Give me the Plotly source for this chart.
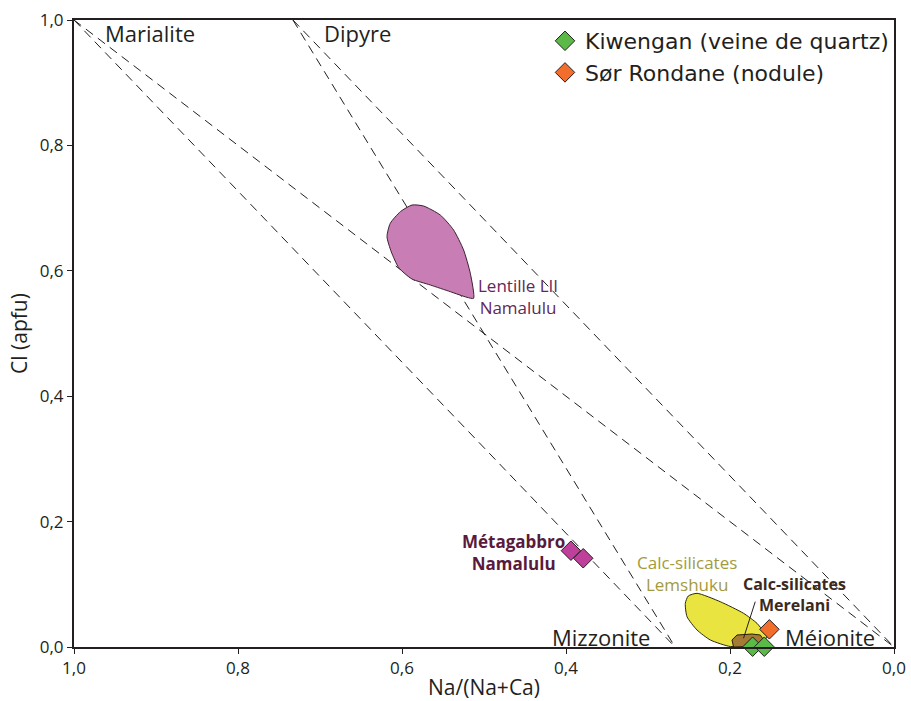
import plotly.graph_objects as go

# ---------------- data ----------------
# end-members (Na/(Na+Ca), Cl)
endmember_names = ["Marialite", "Dipyre", "Mizzonite", "Méionite"]
endmember_x = [1.0, 0.733, 0.267, 0.0]
endmember_y = [1.0, 1.0, 0.0, 0.0]
# joins between end-members (index pairs)
joins = [(0, 3), (0, 2), (1, 2), (1, 3)]

# Lentille LII Namalulu field
lentille_x = [0.5127, 0.5167, 0.5249, 0.5371, 0.5533, 0.5737, 0.5878, 0.6020, 0.6143,
              0.6183, 0.6130, 0.6040, 0.5880, 0.5655, 0.5411, 0.5207, 0.5127]
lentille_y = [0.5561, 0.5960, 0.6332, 0.6651, 0.6890, 0.7033, 0.7049, 0.6943, 0.6758,
              0.6544, 0.6300, 0.6050, 0.5870, 0.5774, 0.5667, 0.5577, 0.5561]

# Calc-silicates Lemshuku field
lemshuku_x = [0.2402, 0.2118, 0.1834, 0.1671, 0.1590, 0.1549, 0.1606, 0.1813, 0.1996,
              0.2240, 0.2402, 0.2524, 0.2545, 0.2509, 0.2402]
lemshuku_y = [0.0856, 0.0722, 0.0537, 0.0378, 0.0244, 0.0164, 0.0080, 0.0032, 0.0008,
              0.0112, 0.0271, 0.0483, 0.0697, 0.0813, 0.0856]

# Calc-silicates Merelani field
merelani_x = [0.1976, 0.1915, 0.1732, 0.1630, 0.1590, 0.1610, 0.1956, 0.1976]
merelani_y = [0.0112, 0.0191, 0.0207, 0.0191, 0.0112, 0.0016, 0.0000, 0.0112]

# Métagabbro Namalulu
metagabbro_x = [0.394, 0.379]
metagabbro_y = [0.1536, 0.1415]

# Kiwengan (veine de quartz)
kiwengan_x = [0.1724, 0.1582]
kiwengan_y = [0.0005, 0.0005]

# Sør Rondane (nodule)
rondane_x = [0.152]
rondane_y = [0.0282]

x_ticks = [1.0, 0.8, 0.6, 0.4, 0.2, 0.0]
y_ticks = [0.0, 0.2, 0.4, 0.6, 0.8, 1.0]

TXT = "#231f20"
FONT = "Open Sans"

fig = go.Figure()

# dashed joins
for a, b in joins:
    fig.add_trace(go.Scatter(
        x=[endmember_x[a], endmember_x[b]], y=[endmember_y[a], endmember_y[b]],
        mode="lines", line=dict(color="#231f20", width=1, dash="9px,6px"),
        showlegend=False, hoverinfo="skip"))

# fields
fig.add_trace(go.Scatter(x=lentille_x, y=lentille_y, mode="lines", fill="toself",
                         fillcolor="#c97db5", line=dict(color="#3a2230", width=1, shape="spline", smoothing=0.6),
                         showlegend=False, hoverinfo="skip"))
fig.add_trace(go.Scatter(x=lemshuku_x, y=lemshuku_y, mode="lines", fill="toself",
                         fillcolor="#e9e43f", line=dict(color="#2a2a10", width=1, shape="spline", smoothing=0.6),
                         showlegend=False, hoverinfo="skip"))
fig.add_trace(go.Scatter(x=merelani_x, y=merelani_y, mode="lines", fill="toself",
                         fillcolor="#a57a33", line=dict(color="#2a1e10", width=1),
                         showlegend=False, hoverinfo="skip"))
# leader line for Merelani
fig.add_trace(go.Scatter(x=[0.1692, 0.1835], y=[0.0723, 0.0139], mode="lines",
                         line=dict(color="#231f20", width=1), showlegend=False, hoverinfo="skip"))

# point data
fig.add_trace(go.Scatter(x=metagabbro_x, y=metagabbro_y, mode="markers",
                         marker=dict(symbol="diamond", size=15, color="#bf409a",
                                     line=dict(color="#231f20", width=1)),
                         showlegend=False))
fig.add_trace(go.Scatter(x=kiwengan_x, y=kiwengan_y, mode="markers", cliponaxis=False,
                         marker=dict(symbol="diamond", size=15, color="#5bb947",
                                     line=dict(color="#231f20", width=1)),
                         name="Kiwengan (veine de quartz)"))
fig.add_trace(go.Scatter(x=rondane_x, y=rondane_y, mode="markers", cliponaxis=False,
                         marker=dict(symbol="diamond", size=15, color="#f26e2c",
                                     line=dict(color="#231f20", width=1)),
                         name="Sør Rondane (nodule)"))

# end-member labels
em_pos = [(0.9643, 0.979, "left"), (0.6976, 0.979, "left"),
          (0.2948, 0.0152, "right"), (0.1359, 0.0152, "left")]
for name, (px, py, xa) in zip(endmember_names, em_pos):
    fig.add_annotation(x=px, y=py, text=name, showarrow=False, xanchor=xa, yanchor="middle",
                       font=dict(family=FONT, size=22, color=TXT))

# field labels
fig.add_annotation(x=0.4582, y=0.5598, text="Lentille LII<br>Namalulu", showarrow=False,
                   xanchor="center", yanchor="middle", align="center",
                   font=dict(family=FONT, size=17, color="#62285a"))
fig.add_annotation(x=0.4643, y=0.1507, text="<b>Métagabbro</b><br><b>Namalulu</b>", showarrow=False,
                   xanchor="center", yanchor="middle", align="center",
                   font=dict(family=FONT, size=17, color="#5a1a3c"))
fig.add_annotation(x=0.2524, y=0.118, text="Calc-silicates<br>Lemshuku", showarrow=False,
                   xanchor="center", yanchor="middle", align="center",
                   font=dict(family=FONT, size=17, color="#a39a3c"))
fig.add_annotation(x=0.1216, y=0.0834, text="<b>Calc-silicates</b><br><b>Merelani</b>", showarrow=False,
                   xanchor="center", yanchor="middle", align="center",
                   font=dict(family=FONT, size=16, color="#3b2a1c"))

fig.update_layout(
    width=911, height=701,
    margin=dict(l=74, r=17, t=20, b=54),
    paper_bgcolor="white", plot_bgcolor="white",
    separators=", ",
    showlegend=True,
    legend=dict(x=1.0, y=1.0, xanchor="right", yanchor="top", bgcolor="rgba(0,0,0,0)",
                font=dict(family="DejaVu Sans", size=22, color=TXT),
                itemsizing="trace", tracegroupgap=0, borderwidth=0),
    xaxis=dict(range=[1.0, 0.0], tickvals=x_ticks, tickformat=".1f", automargin=False,
               ticklabeloverflow="allow", mirror=True,
               showgrid=False, zeroline=False, showline=True, linewidth=2, linecolor="#231f20",
               ticks="outside", ticklen=5, tickwidth=1, tickcolor="#231f20",
               tickfont=dict(family=FONT, size=17, color=TXT),
               title=dict(text="Na/(Na+Ca)", font=dict(family=FONT, size=21, color=TXT), standoff=4)),
    yaxis=dict(range=[0.0, 1.0], tickvals=y_ticks, tickformat=".1f", automargin=False,
               ticklabeloverflow="allow", mirror=True,
               showgrid=False, zeroline=False, showline=True, linewidth=2, linecolor="#231f20",
               ticks="outside", ticklen=5, tickwidth=1, tickcolor="#231f20",
               tickfont=dict(family=FONT, size=17, color=TXT),
               title=dict(text="Cl (apfu)", font=dict(family=FONT, size=21, color=TXT), standoff=6)),
)

# remove the default page margin so the 911x701 figure fills the window exactly
fig.write_html("out.html", config={"displayModeBar": False},
               post_script="document.body.style.margin='0';document.body.style.overflow='hidden';")
